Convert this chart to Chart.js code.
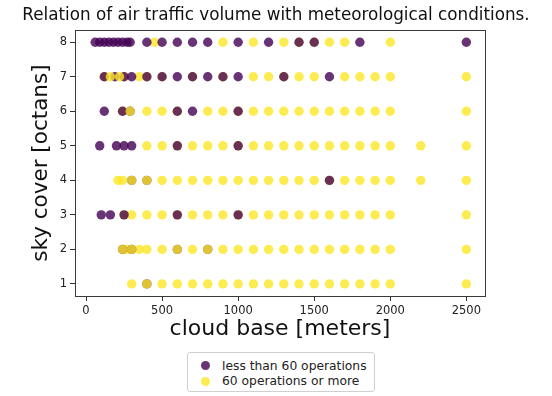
<!DOCTYPE html>
<html>
<head>
<meta charset="utf-8">
<script src="https://cdn.jsdelivr.net/npm/chart.js@4"></script>
<style>
  html, body { margin: 0; padding: 0; background: #fff; }
  #wrap { position: relative; width: 552px; height: 396px; }
  #legend {
    position: absolute; left: 187px; top: 352px; width: 188px; height: 40px;
    box-sizing: border-box; border: 1px solid #d0d0d0; border-radius: 3px;
    font-family: "DejaVu Sans", sans-serif; font-size: 12.3px; color: #222;
    padding: 5px 0 0 13px; background: #fff;
  }
  .item { display: flex; align-items: center; height: 15.5px; }
  .dot { width: 9px; height: 9px; border-radius: 50%; margin-right: 12px; }
</style>
</head>
<body>
<div id="wrap">
  <canvas id="c" width="552" height="396"></canvas>
  <div id="legend"></div>
</div>
<script>
// [cloud base (m), sky cover (octas)]
const fewerOps = [
  [60,8],[90,8],[120,8],[150,8],[180,8],[210,8],[240,8],[270,8],[290,8],
  [400,8],[500,8],[600,8],[700,8],[800,8],[1000,8],[1200,8],[1400,8],[1500,8],[1800,8],[2500,8],
  [120,7],[190,7],[250,7],[300,7],[400,7],[500,7],[600,7],[700,7],[800,7],[900,7],[1000,7],[1300,7],[1600,7],
  [120,6],[240,6],[290,6],[600,6],[700,6],[1000,6],
  [90,5],[200,5],[250,5],[300,5],[600,5],[1000,5],
  [300,4],[400,4],[1600,4],
  [100,3],[160,3],[250,3],[600,3],[1000,3],
  [240,2],[300,2],[600,2],[800,2],
  [400,1]
];

// busier hours, plotted underneath the quieter ones
const moreOps = [
  [450,8],[900,8],[1100,8],[1300,8],[1400,8],[1500,8],[1600,8],[1700,8],[2000,8],
  [120,7],[250,7],[350,7],[400,7],[500,7],[700,7],[900,7],[1100,7],[1200,7],[1300,7],[1400,7],
  [1500,7],[1700,7],[1800,7],[1900,7],[2000,7],[2500,7],
  [240,6],[400,6],[500,6],[600,6],[800,6],[900,6],[1000,6],[1100,6],[1200,6],[1300,6],[1400,6],
  [1500,6],[1600,6],[1700,6],[1800,6],[1900,6],[2000,6],[2500,6],
  [400,5],[500,5],[600,5],[700,5],[800,5],[900,5],[1000,5],[1100,5],[1200,5],[1300,5],[1400,5],
  [1500,5],[1600,5],[1700,5],[1800,5],[1900,5],[2000,5],[2200,5],[2500,5],
  [210,4],[240,4],[500,4],[600,4],[700,4],[800,4],[900,4],[1000,4],[1100,4],[1200,4],[1300,4],
  [1400,4],[1500,4],[1600,4],[1700,4],[1800,4],[1900,4],[2000,4],[2200,4],[2500,4],
  [250,3],[300,3],[400,3],[500,3],[600,3],[700,3],[800,3],[900,3],[1000,3],[1100,3],[1200,3],
  [1300,3],[1400,3],[1500,3],[1600,3],[1700,3],[1800,3],[1900,3],[2000,3],[2500,3],
  [270,2],[350,2],[400,2],[500,2],[700,2],[900,2],[1000,2],[1100,2],[1200,2],[1300,2],[1400,2],
  [1500,2],[1600,2],[1700,2],[1800,2],[1900,2],[2000,2],[2500,2],
  [300,1],[500,1],[600,1],[700,1],[800,1],[900,1],[1000,1],[1100,1],[1200,1],[1300,1],[1400,1],
  [1500,1],[1600,1],[1700,1],[1800,1],[1900,1],[2000,1],[2500,1]
];

// busier hours, plotted on top of the quieter ones
const moreOpsOnTop = [
  [160,7],[220,7],
  [290,6],
  [300,4],[400,4],
  [240,2],[300,2],[600,2],[800,2],
  [400,1]
];

const xTicks = [0, 500, 1000, 1500, 2000, 2500];
const yTicks = [1, 2, 3, 4, 5, 6, 7, 8];
const seriesLabels = ['less than 60 operations', '60 operations or more'];

const PURPLE = 'rgba(68, 1, 84, 0.8)';
const YELLOW = 'rgba(253, 231, 37, 0.8)';
const FONT = '"DejaVu Sans", sans-serif';
const toPoints = arr => arr.map(([x, y]) => ({ x, y }));

const frame = {
  id: 'frame',
  afterDraw(chart) {
    const { ctx, chartArea: a } = chart;
    ctx.save();
    ctx.strokeStyle = '#3a3a3a';
    ctx.lineWidth = 1;
    ctx.strokeRect(Math.round(a.left) + 0.5, Math.round(a.top) + 0.5,
                   Math.round(a.right - a.left), Math.round(a.bottom - a.top));
    ctx.restore();
  }
};

const axisCommon = {
  type: 'linear',
  border: { display: false },
  grid: { drawOnChartArea: false, drawTicks: true, tickLength: 5, tickColor: '#333', lineWidth: 1 },
  ticks: { color: '#222', font: { family: FONT, size: 11.5 }, padding: 3, callback: v => String(v) },
};

const chart = new Chart(document.getElementById('c'), {
  type: 'scatter',
  data: {
    datasets: [
      { label: seriesLabels[0], data: toPoints(fewerOps), backgroundColor: PURPLE, order: 2 },
      { label: seriesLabels[1], data: toPoints(moreOps), backgroundColor: YELLOW, order: 3 },
      { label: seriesLabels[1], data: toPoints(moreOpsOnTop), backgroundColor: YELLOW, order: 1 }
    ]
  },
  options: {
    responsive: false,
    animation: false,
    elements: { point: { radius: 4.7, borderWidth: 0, hoverRadius: 4.7 } },
    layout: { padding: { left: 0, right: 0, top: 0, bottom: 54 } },
    plugins: {
      legend: { display: false },
      tooltip: { enabled: false },
      title: {
        display: true,
        text: 'Relation of air traffic volume with meteorological conditions.',
        color: '#111',
        font: { family: FONT, size: 16.8, weight: 'normal' },
        padding: { top: 6, bottom: 4 }
      }
    },
    scales: {
      x: {
        ...axisCommon,
        min: -72.5, max: 2622.5,
        afterBuildTicks: s => { s.ticks = xTicks.map(v => ({ value: v })); },
        afterFit: s => { s.height = 46; },
        title: { display: true, text: 'cloud base [meters]', color: '#111',
                 font: { family: FONT, size: 22 }, padding: 0 }
      },
      y: {
        ...axisCommon,
        min: 0.65, max: 8.35,
        afterBuildTicks: s => { s.ticks = yTicks.map(v => ({ value: v })); },
        afterFit: s => { s.width = 75; },
        title: { display: true, text: 'sky cover [octans]', color: '#111',
                 font: { family: FONT, size: 21.5 }, padding: { top: 29, bottom: 0 } }
      },
      // empty margin to the right of the plot frame
      margin: {
        type: 'linear', position: 'right', display: true,
        grid: { display: false }, border: { display: false }, ticks: { display: false },
        afterFit: s => { s.width = 67; }
      }
    }
  },
  plugins: [frame]
});

// legend box under the plot
const legendEl = document.getElementById('legend');
chart.data.datasets.slice(0, 2).forEach(ds => {
  const row = document.createElement('div');
  row.className = 'item';
  const dot = document.createElement('span');
  dot.className = 'dot';
  dot.style.background = ds.backgroundColor;
  const txt = document.createElement('span');
  txt.textContent = ds.label;
  row.appendChild(dot);
  row.appendChild(txt);
  legendEl.appendChild(row);
});
</script>
</body>
</html>
